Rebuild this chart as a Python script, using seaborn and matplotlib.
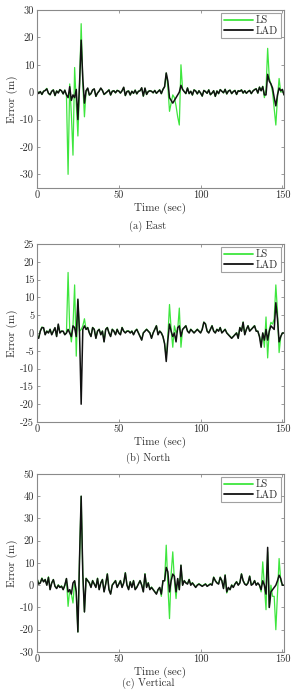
import numpy as np
import pandas as pd
import matplotlib
matplotlib.use("Agg")
import matplotlib.pyplot as plt
import seaborn as sns

# ---------------- data (t = 0..151 s) ----------------
time_sec = list(range(152))

east_lad = [0.5, -0.5, 0.2, -0.8, 0.3, 0.6, 1.2, -0.4, -0.9, 0.3,
            0.8, -1.2, 0.4, -0.3, 0.9, 0.5, -0.6, 0.7, -1.0, -2.0,
            2.0, -3.0, -1.0, -2.0, 1.0, -10.0, 3.0, 19.0, 5.0, -4.0,
            0.5, 1.5, -1.0, -0.5, 0.8, 1.2, -1.5, -0.3, 0.4, 1.5,
            0.6, -0.8, -0.3, 0.2, 0.8, -1.0, 0.3, 0.5, -0.2, 0.6,
            0.4, -0.3, 0.5, 1.8, -1.2, 0.2, 0.4, -1.0, 0.3, -0.4,
            0.7, -0.6, 0.3, 0.5, 1.6, -1.4, 1.5, -0.8, 0.2, 0.5,
            0.3, -0.2, 0.6, -0.4, 0.2, 0.8, -0.5, 1.0, 2.0, 7.0,
            4.0, -2.0, -3.0, -4.0, -3.0, -2.0, -1.0, 0.0, 2.5, 1.0,
            0.2, -0.5, 1.5, -0.5, 0.3, -1.0, 0.8, 0.4, -0.6, 0.5,
            -0.3, -1.4, 0.6, 0.2, -0.4, 0.8, -0.9, -0.3, 0.5, -1.5,
            0.4, -0.5, 0.9, 0.3, -0.2, 1.0, -0.6, 0.4, 0.7, -0.5,
            0.2, 0.6, -0.8, 0.5, 0.3, 0.8, -0.3, 0.5, -0.4, 0.2,
            0.6, -0.5, 0.4, 0.9, 1.2, -0.3, 1.8, 0.5, 2.0, -1.0,
            -1.0, 6.5, 4.0, 3.0, 1.5, -2.0, -5.0, -1.0, 1.5, 0.5,
            1.0, -1.0]
east_ls = [0.6, -0.4, 0.3, -0.9, 0.4, 0.7, 1.4, -0.5, -1.0, 0.4,
           0.9, -1.3, 0.5, -0.2, 1.0, 0.4, -0.7, 0.8, -1.0, -30.0,
           3.0, -8.0, -23.0, 9.0, -4.0, -16.0, 2.0, 25.0, 3.0, -9.0,
           0.6, 1.4, -1.2, -0.6, 0.9, 1.1, -1.6, -0.4, 0.5, 1.4,
           0.7, -0.9, -0.4, 0.3, 0.9, -1.1, 0.4, 0.6, -0.3, 0.7,
           0.5, -0.4, 0.6, 1.7, -1.3, 0.3, 0.5, -1.1, 0.4, -0.5,
           0.8, -0.7, 0.4, 0.6, 1.5, -1.5, 1.4, -0.9, 0.3, 0.6,
           0.4, -0.3, 0.7, -0.5, 0.3, 0.9, -0.6, 1.1, 2.0, 7.0,
           2.0, -7.0, -4.0, -1.0, -2.0, -5.0, -9.0, -12.0, 10.0, 1.0,
           0.3, -0.6, 1.6, -0.6, 0.4, -1.1, 0.9, 0.5, -0.7, 0.6,
           -0.4, -1.5, 0.7, 0.3, -0.5, 0.9, -1.0, -0.4, 0.6, -1.6,
           0.5, -0.6, 1.0, 0.4, -0.3, 1.1, -0.7, 0.5, 0.8, -0.6,
           0.3, 0.7, -0.9, 0.6, 0.4, 0.9, -0.4, 0.6, -0.5, 0.3,
           0.7, -0.6, 0.5, 1.0, 1.3, -0.4, 1.9, 0.6, 2.2, -2.0,
           1.0, 16.0, 5.0, 3.0, 0.0, -6.0, -12.0, -2.0, 5.0, 0.0,
           1.0, -1.0]

north_lad = [-1.0, -1.5, 0.5, 1.5, 1.5, -0.5, 0.5, 0.0, 1.0, -0.5,
             0.5, 1.5, -1.0, 2.5, 0.0, 0.5, 0.5, -0.5, 0.0, 1.0,
             0.0, -1.0, 2.0, 1.5, -1.0, 9.5, 0.0, -20.0, 1.0, 2.0,
             1.0, 1.5, 0.0, -1.0, 1.5, 1.0, -1.5, 0.5, 1.0, -0.5,
             0.5, -2.5, 1.0, 1.5, 0.0, -1.0, 1.0, 0.5, -0.5, 1.0,
             0.0, -0.5, 1.5, 0.5, 0.0, 0.5, 0.5, 0.0, 0.5, -0.5,
             0.5, 1.0, 0.0, -1.0, -2.0, 0.0, 0.5, 1.0, 0.5, 0.0,
             -1.5, 0.0, 1.0, 2.0, -0.5, 0.5, 0.0, -1.0, -3.0, -8.0,
             -2.0, 2.5, 0.5, -1.0, 0.0, -2.5, 1.5, 2.0, -1.0, 1.0,
             1.5, 2.0, 0.5, 0.0, 1.0, 0.5, 0.0, 0.5, 1.0, 0.5,
             0.0, 1.0, 3.0, 2.5, 0.5, 0.0, 1.0, 2.0, 0.5, 0.0,
             1.0, 0.5, 1.5, 0.0, 0.5, 1.0, 0.0, -0.5, -1.0, -1.5,
             -1.0, -0.5, 0.0, -1.5, 1.5, 0.5, 3.0, -0.5, 1.0, 2.0,
             0.5, 1.0, 1.5, 2.0, 0.5, 0.5, -1.0, -4.0, 0.0, -2.0,
             1.0, -2.0, 0.5, 2.0, 1.5, 1.0, 8.5, 4.0, -2.5, -1.0,
             0.0, 0.0]
north_ls = [-0.8, -1.3, 0.6, 1.7, 1.4, -0.4, 0.6, 0.1, 1.1, -0.4,
            0.6, 1.4, -0.9, 2.3, 0.1, 0.6, 0.4, -0.4, 0.0, 17.0,
            1.0, -2.5, 2.0, 13.5, -6.5, 9.0, 0.5, 1.0, 2.0, 4.0,
            1.0, 1.6, 0.1, -0.9, 1.6, 1.1, -1.4, 0.6, 1.1, -0.4,
            0.6, -2.4, 1.1, 1.6, 0.1, -0.9, 1.1, 0.6, -0.4, 1.1,
            0.1, -0.4, 1.6, 0.6, 0.1, 0.6, 0.6, 0.1, 0.6, -0.4,
            0.6, 1.1, 0.1, -0.9, -1.9, 0.1, 0.6, 1.1, 0.6, 0.1,
            -1.4, 0.1, 1.1, 2.1, -0.4, 0.6, 0.1, -1.0, -3.0, -7.0,
            -1.0, 8.0, 1.0, -4.0, 2.0, 0.0, 1.0, 7.0, -4.0, 1.0,
            1.6, 2.1, 0.6, 0.1, 1.1, 0.6, 0.1, 0.6, 1.1, 0.6,
            0.1, 1.1, 3.1, 2.6, 0.6, 0.1, 1.1, 2.1, 0.6, 0.1,
            1.1, 0.6, 1.6, 0.1, 0.6, 1.1, 0.1, -0.4, -0.9, -1.4,
            -0.9, -0.4, 0.1, -1.4, 1.6, 0.6, 3.1, -0.4, 1.1, 2.1,
            0.6, 1.1, 1.6, 2.1, 0.6, 0.5, -1.0, -3.0, 0.0, -4.0,
            4.5, -7.0, 1.0, 3.0, 2.5, 4.0, 13.5, 6.0, -5.5, -1.0,
            0.0, 0.0]

vert_lad = [3.0, 0.5, 1.0, 3.0, 1.5, 2.5, 0.0, 3.5, -2.0, 1.0,
            2.5, -0.5, -1.5, 0.0, -1.0, -0.5, -2.0, 0.0, 3.0, -3.0,
            -2.0, -4.0, 1.0, 2.0, -3.0, -21.0, 12.0, 40.0, 5.0, -12.0,
            3.0, 2.0, 1.0, -1.0, 2.0, 0.5, -1.0, 3.0, -2.0, 1.0,
            2.5, -3.0, 0.5, 5.0, -2.0, -4.0, 0.0, 1.0, 2.0, -1.0,
            0.5, 2.0, -1.0, 1.0, 5.5, 0.0, -2.0, 1.5, -1.0, 2.0,
            -2.0, -1.0, 0.5, 2.0, 0.0, -3.0, 5.0, -1.0, 1.0, -2.0,
            -1.0, -2.0, -3.0, -4.0, -2.0, -1.0, -4.0, 2.0, 2.0, 8.0,
            6.0, -3.0, 2.0, 5.0, 4.0, -3.0, 3.0, -2.0, 9.0, 0.0,
            2.0, 1.0, 0.5, 2.5, 0.0, 1.0, 0.0, -1.0, 0.0, 0.5,
            0.0, -0.5, 0.0, 0.5, -0.5, 0.0, 0.5, 0.0, 3.5, 2.0,
            1.0, 0.5, 3.5, 2.0, -1.5, 4.5, -3.0, -1.0, -2.0, 0.0,
            -1.0, 0.5, 1.5, 0.0, 1.0, 5.0, 2.0, 0.5, 0.0, 1.0,
            4.0, 0.0, 0.5, 2.0, 0.0, 1.0, 0.0, -2.0, 2.0, 0.0,
            -4.0, 17.0, -10.0, -3.0, -2.0, -1.0, 0.0, 2.0, 4.5, 3.0,
            0.0, 0.0]
vert_ls = [3.2, 0.6, 1.2, 3.3, 1.6, 2.7, 0.2, 3.8, -1.8, 1.2,
           2.6, -0.4, -1.3, 0.2, -0.8, -0.3, -1.8, 0.0, 3.0, -9.5,
           -2.0, -4.0, -8.0, 2.0, -3.0, -21.0, 12.0, 40.0, 5.0, -12.0,
           3.2, 2.2, 1.2, -0.8, 2.2, 0.7, -0.8, 3.2, -1.8, 1.2,
           2.7, -2.8, 0.7, 5.2, -1.8, -3.8, 0.2, 1.2, 2.2, -0.8,
           0.7, 2.2, -0.8, 1.2, 5.7, 0.2, -1.8, 1.7, -0.8, 2.2,
           -1.8, -0.8, 0.7, 2.2, 0.2, -2.8, 5.2, -0.8, 1.2, -1.8,
           -0.8, -1.8, -2.8, -3.8, -2.0, -1.0, -5.0, 2.0, 2.0, 18.0,
           0.0, -15.0, 5.0, 15.0, 2.0, -6.0, 3.0, -2.0, 9.0, 0.0,
           2.2, 1.2, 0.7, 2.7, 0.2, 1.2, 0.2, -0.8, 0.2, 0.7,
           0.2, -0.3, 0.2, 0.7, -0.3, 0.2, 0.7, 0.2, 3.7, 2.2,
           1.2, 0.7, 3.7, 2.2, -1.3, 4.7, -3.5, -1.5, -2.0, 0.2,
           -0.8, 0.7, 1.7, 0.2, 1.2, 5.2, 2.2, 0.7, 0.2, 1.2,
           4.2, 0.2, 0.7, 2.2, 0.2, 1.0, 0.0, -3.0, 10.5, 0.0,
           -11.0, 15.0, -10.0, 0.0, -5.0, -5.0, -20.0, -4.0, 12.0, 2.0,
           0.0, 0.0]

panel_names = ["(a) East", "(b) North", "(c) Vertical"]
y_limits = [(-35, 30), (-25, 25), (-30, 50)]
y_ticks = [list(range(-30, 31, 10)), list(range(-25, 26, 5)), list(range(-30, 51, 10))]
x_ticks = [0, 50, 100, 150]
series_names = ["LS", "LAD"]

# ---------------- style ----------------
sns.set_style("ticks")
plt.rcParams["font.family"] = ["cmr10", "DejaVu Serif"]
plt.rcParams["axes.unicode_minus"] = False
plt.rcParams["mathtext.fontset"] = "cm"
text_col = "#2e2e2e"
edge_col = "#8a8a8a"
palette = {"LS": "#3ee63e", "LAD": "#111111"}

fig = plt.figure(figsize=(2.96, 6.90), dpi=100)
ax_rects = [[0.125, 0.7275, 0.8345, 0.258],
            [0.125, 0.3884, 0.8345, 0.258],
            [0.125, 0.0551, 0.8345, 0.258]]
caption_y = [1 - 226 / 690, 1 - 458 / 690, 1 - 683 / 690]

data = [(east_ls, east_lad), (north_ls, north_lad), (vert_ls, vert_lad)]
for i, (ls, lad) in enumerate(data):
    ax = fig.add_axes(ax_rects[i])
    df = pd.DataFrame({
        "t": time_sec + time_sec,
        "err": ls + lad,
        "method": ["LS"] * len(ls) + ["LAD"] * len(lad),
    })
    sns.lineplot(data=df, x="t", y="err", hue="method", hue_order=series_names,
                 palette=palette, ax=ax, estimator=None, sort=False)
    for line, lw in zip(ax.get_lines(), [0.9, 1.1]):
        line.set_linewidth(lw)
    ax.set_xlim(0, 151)
    ax.set_ylim(*y_limits[i])
    ax.set_xticks(x_ticks)
    ax.set_yticks(y_ticks[i])
    ax.tick_params(direction="in", top=True, right=True, length=2.5, width=0.6,
                   labelsize=7.5, colors=edge_col, labelcolor=text_col, pad=2)
    for sp in ax.spines.values():
        sp.set_color(edge_col)
        sp.set_linewidth(0.8)
    ax.set_xlabel("Time (sec)", fontsize=8, color=text_col, labelpad=1.5)
    ax.set_ylabel("Error (m)", fontsize=8, color=text_col, labelpad=1.5)
    h, l = ax.get_legend_handles_labels()
    for hh in h:
        hh.set_linewidth(1.3)
    leg = ax.legend(h, l, loc="upper right", fontsize=7.5, frameon=True,
                    fancybox=False, handlelength=2.8, handletextpad=0.3,
                    borderpad=0.25, labelspacing=0.1, borderaxespad=0.3)
    leg.get_frame().set_edgecolor(edge_col)
    leg.get_frame().set_linewidth(0.8)
    for t in leg.get_texts():
        t.set_color(text_col)
    fig.text(0.5, caption_y[i], panel_names[i], ha="center", va="center",
             fontsize=7.5, color=text_col)

fig.savefig("out.png", dpi=100)
